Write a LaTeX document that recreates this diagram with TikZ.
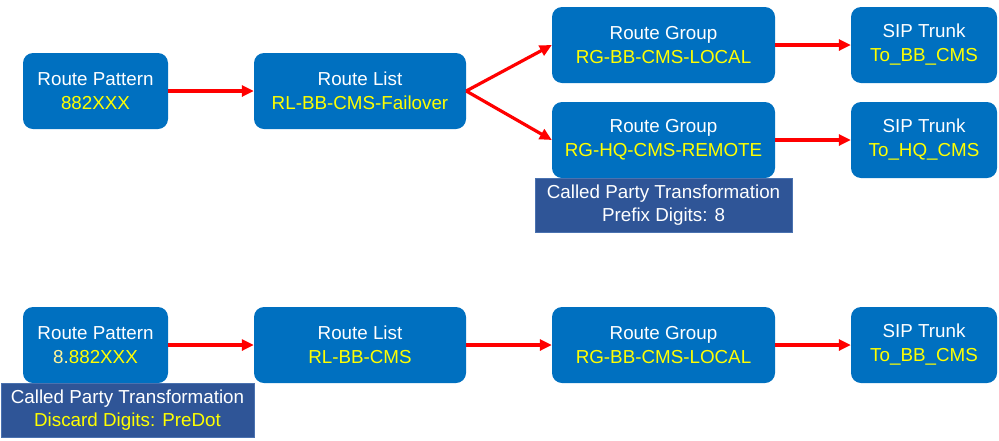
\documentclass[tikz,border=0pt]{standalone}
\usepackage{fontspec}
\setmainfont{Liberation Sans}
\usetikzlibrary{arrows.meta}
\definecolor{boxblue}{HTML}{0070C0}
\definecolor{cptblue}{HTML}{2F5597}
\definecolor{cptborder}{HTML}{4A72B0}
\definecolor{txtyellow}{HTML}{FFFF00}
\definecolor{paleyellow}{HTML}{FFF59A}
\definecolor{arrowred}{HTML}{FF0000}
\tikzset{
  rbox/.style={fill=boxblue, rounded corners=10pt, inner sep=0pt, align=center,
    text=white, font=\fontsize{18.8}{24}\selectfont},
  cptbox/.style={fill=cptblue, draw=cptborder, line width=0.8pt, inner sep=0pt, align=center,
    text=white, font=\fontsize{18.8}{23}\selectfont, minimum width=257pt, minimum height=54pt},
  flow/.style={draw=arrowred, line width=3.2pt, -{Triangle[length=12pt,width=11pt]}},
}
\newcommand{\yl}[1]{\textcolor{txtyellow}{#1}}
\begin{document}
\begin{tikzpicture}[x=1pt,y=-1pt]
\useasboundingbox (0,0) rectangle (999,440);
% top row
\node[rbox, minimum width=145pt, minimum height=76pt] (rp1) at (95.5,91) {Route Pattern\\\yl{882XXX}};
\node[rbox, minimum width=212pt, minimum height=76pt] (rl1) at (360,91) {Route List\\\yl{RL-BB-CMS-Failover}};
\node[rbox, minimum width=223pt, minimum height=76pt] (rg1a) at (663.5,45) {Route Group\\\yl{RG-BB-CMS-LOCAL}};
\node[rbox, minimum width=223pt, minimum height=76pt] (rg1b) at (663.5,140) {Route Group\\\yl{RG-HQ-CMS-REMOTE}};
\node[rbox, minimum width=146pt, minimum height=76pt] (st1a) at (924,45) {SIP Trunk\\\yl{To\_BB\_CMS}};
\node[rbox, minimum width=146pt, minimum height=76pt] (st1b) at (924,140) {SIP Trunk\\\yl{To\_HQ\_CMS}};
\node[cptbox] (cpt1) at (663.5,205) {Called Party Transformation\\Prefix Digits: 8};
\draw[flow] (rp1.east) -- (rl1.west);
\draw[flow] (rl1.east) -- (rg1a.west);
\draw[flow] (rl1.east) -- (rg1b.west);
\draw[flow] (rg1a.east) -- (st1a.west);
\draw[flow] (rg1b.east) -- (st1b.west);
% bottom row
\node[rbox, minimum width=145pt, minimum height=76pt] (rp2) at (95.5,345) {Route Pattern\\\textcolor{paleyellow}{8.}\yl{882XXX}};
\node[rbox, minimum width=212pt, minimum height=76pt] (rl2) at (360,345) {Route List\\\yl{RL-BB-CMS}};
\node[rbox, minimum width=223pt, minimum height=76pt] (rg2) at (663.5,345) {Route Group\\\yl{RG-BB-CMS-LOCAL}};
\node[rbox, minimum width=146pt, minimum height=76pt] (st2) at (924,345) {SIP Trunk\\\yl{To\_BB\_CMS}};
\node[cptbox, minimum width=253pt] (cpt2) at (127.5,410) {Called Party Transformation\\\yl{Discard Digits: PreDot}};
\draw[flow] (rp2.east) -- (rl2.west);
\draw[flow] (rl2.east) -- (rg2.west);
\draw[flow] (rg2.east) -- (st2.west);
\end{tikzpicture}
\end{document}
